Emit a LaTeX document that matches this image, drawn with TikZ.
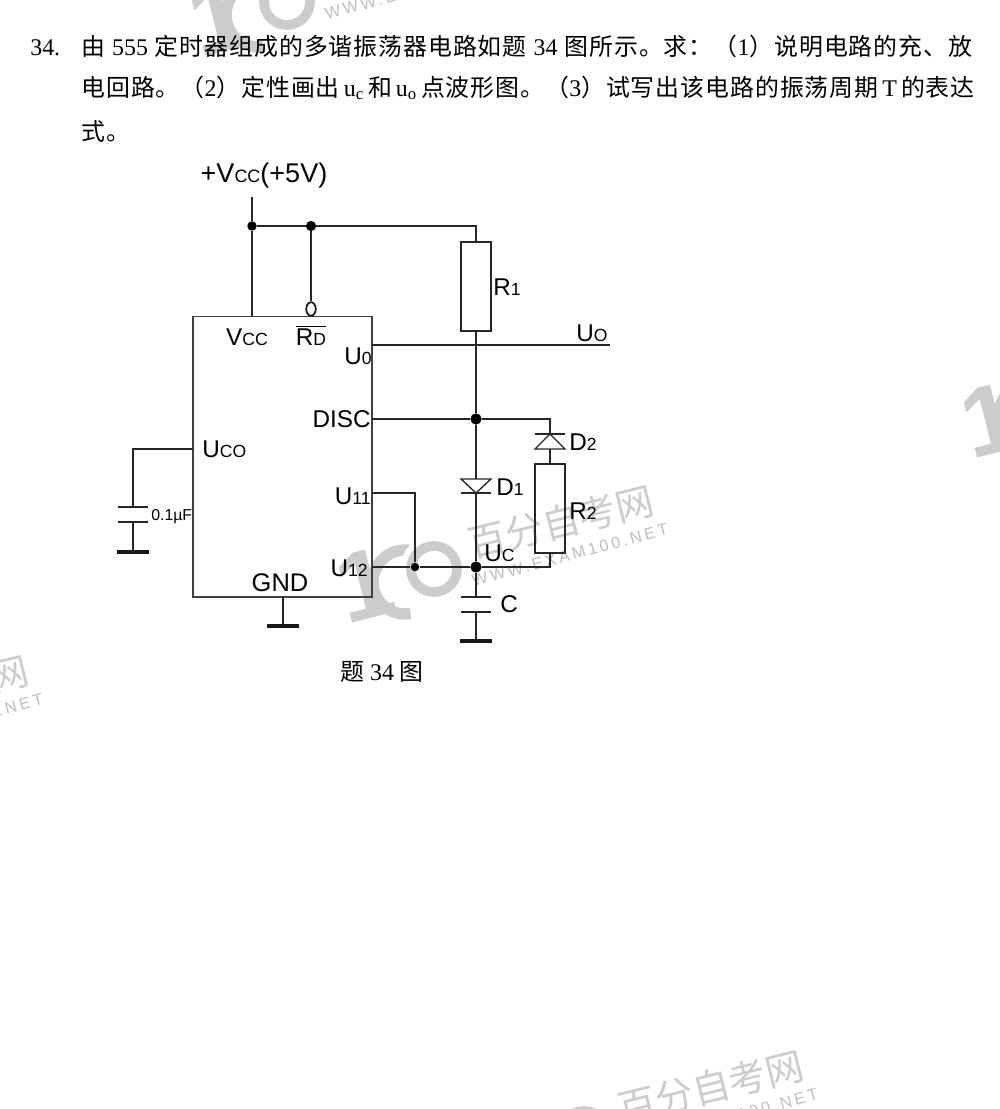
\documentclass[tikz,border=0pt]{standalone}
\usepackage{fontspec}
\setmainfont{Liberation Serif}
\newfontfamily\cjk{Noto Sans CJK SC}
\newfontfamily\cjkwide[LetterSpace=4]{Noto Sans CJK SC}
\newfontfamily\labfamily{Liberation Sans}
\newfontfamily\wmfamily[LetterSpace=18]{Liberation Sans}
\usetikzlibrary{positioning, shapes.geometric}

% label with a smaller second part, as the figure prints them
\newcommand{\labsub}[2]{#1{\fontsize{10}{11}\selectfont #2}}

\tikzset{
    wire/.style={line width=0.75pt, black!85},
    part/.style={draw=black!85, line width=0.65pt, minimum width=0.6cm, inner sep=0pt},
    dot/.style={circle, fill=black, inner sep=0pt, minimum size=#1},
    lab/.style={font=\labfamily\fontsize{13.8}{15}\selectfont, inner sep=0pt, text=black},
    qline/.style={anchor=base west, inner sep=0pt, font=\fontsize{13.6}{14}\selectfont},
    earth/.style={line width=1.8pt, black!90},
    wmgray/.style={black!20},
    wmark/.pic={
        \draw[wmgray, line width=6.5pt] ([shift={(80:32)}]-10,17) arc[start angle=80, end angle=280, radius=32];
        \draw[white, line width=10pt] (19,4) circle[radius=25];
        \draw[wmgray, line width=5.5pt] (19,4) circle[radius=23];
        \node[wmgray, rotate=14, inner sep=0pt, font=\labfamily\bfseries\fontsize{56}{56}\selectfont] (one) at (-50,20) {1};
        \node[black!20, rotate=14, inner sep=0pt, font=\cjk\fontsize{21.6}{22}\selectfont] (cn) at (146,-43) {百分自考网};
        \node[black!25, rotate=15, inner sep=0pt, font=\wmfamily\fontsize{9.3}{10}\selectfont] (web) at (155,-10) {WWW.EXAM100.NET};
    }
}

\begin{document}
\begin{tikzpicture}[x=0.02cm, y=-0.02cm]
\useasboundingbox (0,0) rectangle (1000,1109);

% === WATERMARKS ===
\begin{scope}
    \clip (0,0) rectangle (1000,1109);
    \pic (wmmain) at (415,565) {wmark};
    \pic (wmtop) at (268,-2) {wmark};
    \pic (wmright) at (1040,400) {wmark};
    \pic (wmbottom) at (565,1130) {wmark};
    \pic (wmleft) at (-210,735) {wmark};
\end{scope}

% === QUESTION TEXT ===
\node[qline] (qnum) at (30,55) {34.};
\node[qline] (qone) at (81,55) {\makebox[17.82cm][s]{{\cjkwide 由} 555 {\cjkwide 定时器组成的多谐振荡器电路如题} 34 {\cjkwide 图所示。求：（}1{\cjkwide ）说明电路的充、放}}};
\node[qline] (qtwo) at (81,96) {\makebox[17.82cm][s]{{\cjkwide 电回路。（}2{\cjkwide ）定性画出} u\textsubscript{c} {\cjkwide 和} u\textsubscript{o} {\cjkwide 点波形图。（}3{\cjkwide ）试写出该电路的振荡周期} T {\cjkwide 的表达}}};
\node[qline] (qthree) at (81,140) {{\cjkwide 式。}};

% === NODES ===

% 555 block
\node[draw=black!75, line width=0.6pt, minimum width=3.58cm, minimum height=5.62cm, inner sep=0pt] (ic) at (282.5,456.5) {};

% Resistors
\node[part, minimum height=1.78cm] (r1) at (476,286.5) {};
\node[part, minimum height=1.78cm] (r2) at (550,508.5) {};

% Junctions
\node[dot=5.4pt] (jvcc) at (252,226) {};
\node[dot=5.8pt] (jrd) at (311,226) {};
\node[dot=6.4pt] (jdisc) at (476,419) {};
\node[dot=4.8pt] (jtrig) at (415,567) {};
\node[dot=6.4pt] (juc) at (476,567) {};

% Reset bubble
\node[draw=black!90, ellipse, line width=1pt, minimum width=0.19cm, minimum height=0.27cm, inner sep=0pt] (rdbub) at (311,309) {};

% Free ends and corners
\coordinate (vtop) at (252,197);
\coordinate (vpin) at (252,316);
\coordinate (r1top) at (476,226);
\coordinate (pinout) at (372,345);
\coordinate (jout) at (476,345);
\coordinate (uoend) at (610,345);
\coordinate (pindisc) at (372,419);
\coordinate (cdisc) at (550,419);
\coordinate (d2bar) at (550,434);
\coordinate (d2base) at (550,449);
\coordinate (d1base) at (476,479);
\coordinate (d1bar) at (476,493);
\coordinate (pinth) at (372,493);
\coordinate (cth) at (415,493);
\coordinate (pintr) at (372,567);
\coordinate (cr2) at (550,567);
\coordinate (cplatea) at (476,597);
\coordinate (cplateb) at (476,612);
\coordinate (cgnd) at (476,641);
\coordinate (pinco) at (193,449);
\coordinate (cco) at (133,449);
\coordinate (coplatea) at (133,507);
\coordinate (coplateb) at (133,522);
\coordinate (cognd) at (133,552);
\coordinate (pingnd) at (283,597);
\coordinate (icgnd) at (283,626);

% === WIRES ===
\draw[wire] (vtop) -- (jvcc) -- (vpin);
\draw[wire] (jvcc) -- (jrd) -- (r1top) -- (r1);
\draw[wire] (jrd) -- (rdbub);
\draw[wire] (pinout) -- (uoend);
\draw[wire] (r1) -- (jout) -- (jdisc);
\draw[wire] (pindisc) -- (jdisc) -- (cdisc) -- (d2bar);
\draw[wire] (d2base) -- (r2);
\draw[wire] (jdisc) -- (d1base);
\draw[wire] (d1bar) -- (juc) -- (cplatea);
\draw[wire] (pinth) -- (cth) -- (jtrig);
\draw[wire] (pintr) -- (jtrig) -- (juc) -- (cr2) -- (r2);
\draw[wire] (cplateb) -- (cgnd);
\draw[wire] (pinco) -- (cco) -- (coplatea);
\draw[wire] (coplateb) -- (cognd);
\draw[wire] (pingnd) -- (icgnd);

% === DIODES, PLATES, EARTHS ===
\draw[wire] (d1base) ++(-15,0) -- ++(30,0) -- (d1bar) -- cycle;
\draw[wire] (d1bar) ++(-15,0) -- ++(30,0);
\draw[wire] (d2base) ++(-15,0) -- ++(30,0) -- (d2bar) -- cycle;
\draw[wire] (d2bar) ++(-15,0) -- ++(30,0);
\draw[wire] (cplatea) ++(-15,0) -- ++(30,0);
\draw[wire] (cplateb) ++(-15,0) -- ++(30,0);
\draw[wire] (coplatea) ++(-15,0) -- ++(30,0);
\draw[wire] (coplateb) ++(-15,0) -- ++(30,0);
\draw[earth] (cgnd) ++(-16,0) -- ++(32,0);
\draw[earth] (cognd) ++(-16,0) -- ++(32,0);
\draw[earth] (icgnd) ++(-16,0) -- ++(32,0);

% === LABELS ===
\node[lab, font=\labfamily\fontsize{15.4}{16}\selectfont] (vcclab) at (264,175) {+V{\fontsize{10.2}{11}\selectfont CC}(+5V)};
\node[lab, anchor=base] (vccpin) at (247,345) {\labsub{V}{CC}};
\node[lab, anchor=base] (rdpin) at (311,345) {$\overline{\hbox{\labsub{R}{D}}}$};
\node[lab, anchor=base east] (u0pin) at (372,364) {\labsub{U}{0}};
\node[lab, anchor=base east] (discpin) at (371,427) {DISC};
\node[lab, anchor=base west] (ucopin) at (202,457) {\labsub{U}{CO}};
\node[lab, anchor=base east] (u11pin) at (371,504) {\labsub{U}{11}};
\node[lab, anchor=base east] (u12pin) at (368,576) {\labsub{U}{12}};
\node[lab, anchor=base, font=\labfamily\fontsize{14.5}{15}\selectfont] (gndpin) at (280,591) {GND};
\node[lab, anchor=base west] (r1lab) at (493,295) {\labsub{R}{1}};
\node[lab, anchor=base west] (uolab) at (576,341) {\labsub{U}{O}};
\node[lab, anchor=base west] (d2lab) at (569,450) {\labsub{D}{2}};
\node[lab, anchor=base west] (d1lab) at (496,495) {\labsub{D}{1}};
\node[lab, anchor=base west] (r2lab) at (569,519) {\labsub{R}{2}};
\node[lab, anchor=base west] (uclab) at (484,561) {\labsub{U}{C}};
\node[lab, anchor=base west] (clab) at (500,612) {C};
\node[lab, anchor=base west, font=\labfamily\fontsize{9}{10}\selectfont] (colab) at (151,520) {0.1µF};
\node[inner sep=0pt, font=\fontsize{13.6}{14}\selectfont] (figcap) at (382,672) {{\cjk 题} 34 {\cjk 图}};

\end{tikzpicture}
\end{document}
